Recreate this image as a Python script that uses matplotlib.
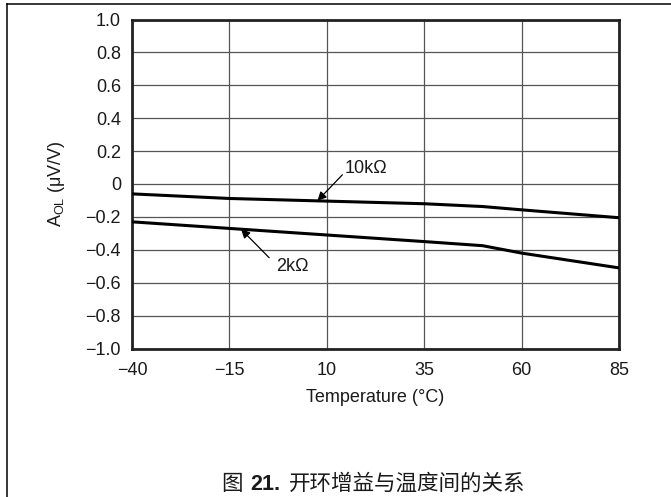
import matplotlib
matplotlib.use('Agg')
import matplotlib.pyplot as plt
from matplotlib.lines import Line2D

plt.rcParams['font.family'] = ['Liberation Sans', 'DejaVu Sans']

# Data
temps = [-40, -15, 10, 35, 50, 60, 85]
aol_10k = [-0.06, -0.088, -0.104, -0.12, -0.137, -0.157, -0.205]
aol_2k = [-0.23, -0.27, -0.31, -0.35, -0.375, -0.42, -0.51]

xticks = [-40, -15, 10, 35, 60, 85]
yticks = [1.0, 0.8, 0.6, 0.4, 0.2, 0, -0.2, -0.4, -0.6, -0.8, -1.0]
ytick_labels = ['1.0', '0.8', '0.6', '0.4', '0.2', '0', '\u22120.2', '\u22120.4',
                '\u22120.6', '\u22120.8', '\u22121.0']
xtick_labels = ['\u221240', '\u221215', '10', '35', '60', '85']

W, H = 671, 497
fig = plt.figure(figsize=(W / 100, H / 100), dpi=100)
ax = fig.add_axes([132 / W, 1 - 348.5 / H, (619 - 132) / W, (348.5 - 19.5) / H])

ax.plot(temps, aol_10k, color='black', lw=2.2, solid_capstyle='butt', zorder=3)
ax.plot(temps, aol_2k, color='black', lw=2.2, solid_capstyle='butt', zorder=3)

ax.set_xlim(-40, 85)
ax.set_ylim(-1.0, 1.0)
ax.set_xticks(xticks)
ax.set_xticklabels(xtick_labels)
ax.set_yticks(yticks)
ax.set_yticklabels(ytick_labels)
ax.tick_params(axis='both', length=0, labelsize=13, colors='#1a1a1a')
ax.tick_params(axis='x', pad=10)
ax.tick_params(axis='y', pad=8)
ax.grid(True, color='#555555', lw=0.9)
ax.set_axisbelow(True)
for sp in ax.spines.values():
    sp.set_linewidth(2.0)
    sp.set_color('#222222')

ax.set_xlabel('Temperature (\u00b0C)', fontsize=13, color='#1a1a1a', labelpad=7)
ax.set_ylabel('A$_{\\mathregular{OL}}$ (\u03bcV/V)', fontsize=13, color='#1a1a1a', labelpad=13)

# curve labels with arrows
arrow = dict(arrowstyle='-|>', lw=0.9, color='black', mutation_scale=13,
             shrinkA=0, shrinkB=0)
ax.annotate('', xy=(7.6, -0.102), xytext=(14.0, 0.056), arrowprops=arrow)
ax.text(14.5, 0.093, '10k\u03a9', fontsize=13, ha='left', va='center', color='#1a1a1a')
ax.annotate('', xy=(-12.0, -0.275), xytext=(-4.8, -0.448), arrowprops=arrow)
ax.text(-3.0, -0.503, '2k\u03a9', fontsize=13, ha='left', va='center', color='#1a1a1a')

# outer frame (top and left edges)
fig.add_artist(Line2D([6.5 / W, 1], [1 - 3.5 / H, 1 - 3.5 / H], transform=fig.transFigure,
                      color='black', lw=1.1))
fig.add_artist(Line2D([6.5 / W, 6.5 / W], [0, 1 - 3.5 / H], transform=fig.transFigure,
                      color='black', lw=1.1))

# caption: mixed CJK + bold number
cap_parts = [('图', 'normal', ['Noto Sans CJK SC']),
             ('21.', 'bold', ['Liberation Sans']),
             ('开环增益与温度间的关系', 'normal', ['Noto Sans CJK SC'])]
renderer = fig.canvas.get_renderer()
gap = 8
base_y = 1 - 490 / H
texts = []
widths = []
for s, wt, fam in cap_parts:
    t = fig.text(0, base_y, s, fontsize=15.5, fontweight=wt, family=fam,
                 ha='left', va='baseline', color='#1a1a1a')
    texts.append(t)
    widths.append(t.get_window_extent(renderer).width)
total = sum(widths) + gap * (len(widths) - 1)
x = 373 - total / 2
for t, w in zip(texts, widths):
    t.set_x(x / W)
    x += w + gap

fig.savefig('out.png', dpi=100, facecolor='white')
